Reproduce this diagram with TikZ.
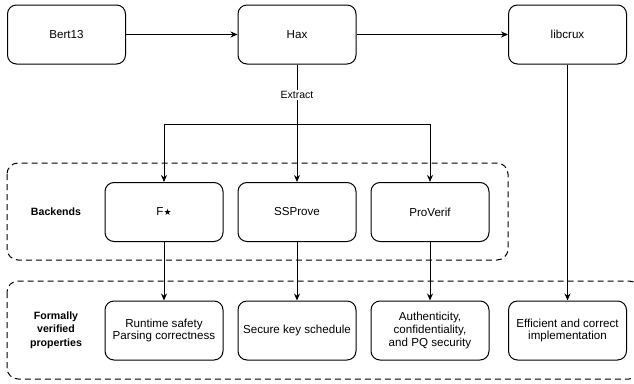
\documentclass[tikz,border=0pt]{standalone}
\usepackage{fontspec}
\setmainfont{Liberation Sans}
\newfontfamily\symfont{DejaVu Sans}
\usetikzlibrary{arrows.meta,positioning,calc}
\tikzset{every picture/.style={line width=1pt}}
\tikzset{
    tool/.style={draw, rounded corners=9pt, minimum width=118pt, minimum height=59pt,
        align=center, inner sep=2pt, font=\fontsize{11.6}{12.6}\selectfont},
    group/.style={draw, dash pattern=on 6pt off 4pt, rounded corners=11pt},
    grouplabel/.style={align=center, font=\fontsize{10.6}{13.5}\selectfont\bfseries},
    arr/.style={-{Stealth[length=7pt,width=6pt]}}
}

\begin{document}
\begin{tikzpicture}[x=1pt,y=-1pt]
    \path[use as bounding box, clip] (0,0) rectangle (634,383);

    % 上排：输入、工具、实现
    \node[tool] (bert) at (66.5,34.5) {Bert13};
    \node[tool] (hax) at (297,34.5) {Hax};
    \node[tool] (libcrux) at (567.5,34.5) {libcrux};

    % 后端分组
    \draw[group] (7,163) rectangle (508,260);
    \node[grouplabel] (backends) at (56,212) {Backends};
    \node[tool] (fstar) at (164,212) {F{\symfont\fontsize{9}{10}\selectfont ★}};
    \node[tool] (ssprove) at (297,212) {SSProve};
    \node[tool] (proverif) at (430,212) {ProVerif};

    % 形式化验证性质分组
    \draw[group] (7,281) rectangle (640,379);
    \node[grouplabel] (props) at (56,330) {Formally\\verified\\properties};
    \node[tool] (runtime) at (164,330.5) {Runtime safety\\Parsing correctness};
    \node[tool] (secure) at (297,330.5) {Secure key schedule};
    \node[tool] (auth) at (430,330.5) {Authenticity,\\confidentiality,\\and PQ security};
    \node[tool] (efficient) at (567.5,330.5) {Efficient and correct\\implementation};

    % 连线
    \draw[arr] (bert) -- (hax);
    \draw[arr] (hax) -- (libcrux);
    \coordinate (split) at (297,124);
    \draw[arr] (hax) -- node[pos=0.26, fill=white, inner sep=1.5pt,
        font=\fontsize{10.5}{12}\selectfont] (extract) {Extract} (ssprove);
    \draw[arr] (split) -| (fstar);
    \draw[arr] (split) -| (proverif);
    \draw[arr] (fstar) -- (runtime);
    \draw[arr] (ssprove) -- (secure);
    \draw[arr] (proverif) -- (auth);
    \draw[arr] (libcrux) -- (efficient);
\end{tikzpicture}
\end{document}
